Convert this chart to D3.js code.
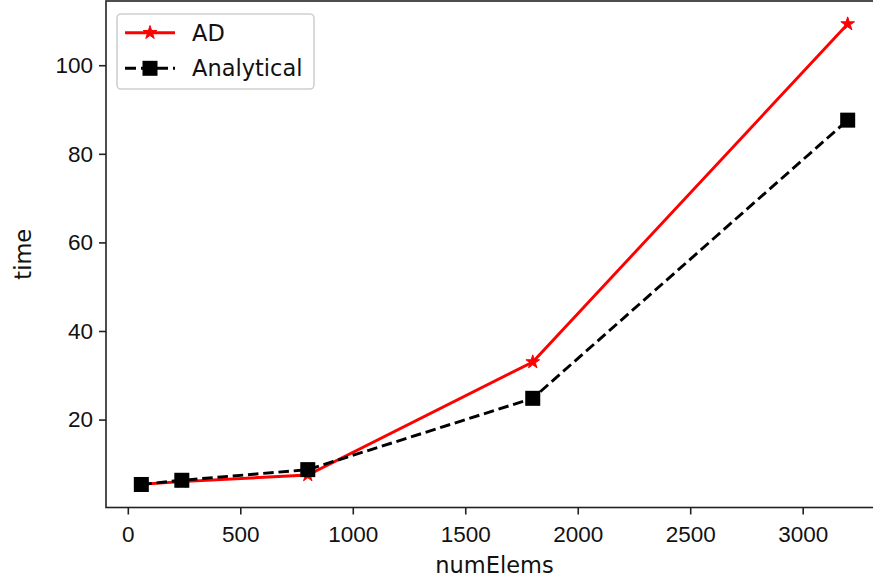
<!DOCTYPE html>
<html>
<head>
<meta charset="utf-8">
<script src="https://cdn.jsdelivr.net/npm/d3@7"></script>
<style>
  body { margin: 0; background: #fff; }
  svg { display: block; font-family: "DejaVu Sans", sans-serif; }
  .tick text { font-size: 22.5px; fill: #111; }
</style>
</head>
<body>
<div id="chart"></div>
<script>
// data
var numElems = [60, 240, 800, 1800, 3200]
var adTime = [5.4, 6.0, 7.5, 33.0, 109.3]
var analyticalTime = [5.35, 6.3, 8.7, 24.8, 87.6]
var xTicks = [0, 500, 1000, 1500, 2000, 2500, 3000]
var yTicks = [20, 40, 60, 80, 100]

var svgSize = { width: 873, height: 584 }
// axes box (right side runs past the edge of the picture)
var box = { left: 106, right: 883, top: 1, bottom: 507.5 }

var svg = d3.select("#chart").append("svg")
    .attr("width", svgSize.width)
    .attr("height", svgSize.height)

// matplotlib style 5% margins
function padded(vals) {
    var lo = d3.min(vals), hi = d3.max(vals), m = (hi - lo) * 0.05
    return [lo - m, hi + m]
}

var xScale = d3.scaleLinear()
    .domain(padded(numElems))
    .range([box.left, box.right])
var yScale = d3.scaleLinear()
    .domain(padded(adTime.concat(analyticalTime)))
    .range([box.bottom, box.top])

var bottomAxis = d3.axisBottom(xScale).tickValues(xTicks).tickSize(7).tickPadding(6).tickFormat(d3.format("d"))
var leftAxis = d3.axisLeft(yScale).tickValues(yTicks).tickSize(7).tickPadding(6).tickFormat(d3.format("d"))

var gx = svg.append("g").attr("transform", `translate(0, ${box.bottom})`).call(bottomAxis)
var gy = svg.append("g").attr("transform", `translate(${box.left}, 0)`).call(leftAxis)
gx.select(".domain").remove()
gy.select(".domain").remove()
svg.selectAll(".tick line").attr("stroke", "#222").attr("stroke-width", 1.6)
gx.selectAll(".tick text").attr("dy", "0.95em")

// spines
svg.append("rect")
    .attr("x", box.left).attr("y", box.top)
    .attr("width", box.right - box.left).attr("height", box.bottom - box.top)
    .attr("fill", "none").attr("stroke", "#222").attr("stroke-width", 1.6)

var adPts = numElems.map((n, i) => [n, adTime[i]])
var anPts = numElems.map((n, i) => [n, analyticalTime[i]])
var line = d3.line().x(d => xScale(d[0])).y(d => yScale(d[1]))

svg.append("path").datum(adPts)
    .attr("d", line).attr("fill", "none")
    .attr("stroke", "red").attr("stroke-width", 2.9)
svg.append("g").selectAll("path").data(adPts).enter().append("path")
    .attr("d", d3.symbol(d3.symbolStar, 58))
    .attr("transform", d => `translate(${xScale(d[0])}, ${yScale(d[1])})`)
    .attr("fill", "red").attr("stroke", "red").attr("stroke-width", 1)

svg.append("path").datum(anPts)
    .attr("d", line).attr("fill", "none")
    .attr("stroke", "black").attr("stroke-width", 2.9)
    .attr("stroke-dasharray", "10.5,4.8")
svg.append("g").selectAll("rect").data(anPts).enter().append("rect")
    .attr("x", d => xScale(d[0]) - 7.5).attr("y", d => yScale(d[1]) - 7.5)
    .attr("width", 15).attr("height", 15)
    .attr("fill", "black")

// legend
var legend = svg.append("g")
legend.append("rect")
    .attr("x", 117).attr("y", 14).attr("width", 197).attr("height", 75)
    .attr("rx", 4).attr("fill", "white").attr("fill-opacity", 0.8)
    .attr("stroke", "#d0d0d0").attr("stroke-width", 1.6)

legend.append("line").attr("x1", 125).attr("x2", 175).attr("y1", 32.7).attr("y2", 32.7)
    .attr("stroke", "red").attr("stroke-width", 2.9)
legend.append("path").attr("d", d3.symbol(d3.symbolStar, 58))
    .attr("transform", "translate(150, 32.7)").attr("fill", "red").attr("stroke", "red")
legend.append("text").attr("x", 192).attr("y", 40.5).attr("font-size", 22.5).attr("fill", "#111").text("AD")

legend.append("line").attr("x1", 125).attr("x2", 175).attr("y1", 68.3).attr("y2", 68.3)
    .attr("stroke", "black").attr("stroke-width", 2.9).attr("stroke-dasharray", "11,5")
legend.append("rect").attr("x", 142.5).attr("y", 60.8).attr("width", 15).attr("height", 15).attr("fill", "black")
legend.append("text").attr("x", 192).attr("y", 76).attr("font-size", 22.5).attr("fill", "#111").text("Analytical")

// axis labels
svg.append("text")
    .attr("x", (box.left + box.right) / 2).attr("y", 573)
    .attr("text-anchor", "middle").attr("font-size", 22.5).attr("fill", "#111")
    .text("numElems")
svg.append("text")
    .attr("transform", `translate(31, ${(box.top + box.bottom) / 2}) rotate(-90)`)
    .attr("text-anchor", "middle").attr("font-size", 22.5).attr("fill", "#111")
    .text("time")
</script>
</body>
</html>
